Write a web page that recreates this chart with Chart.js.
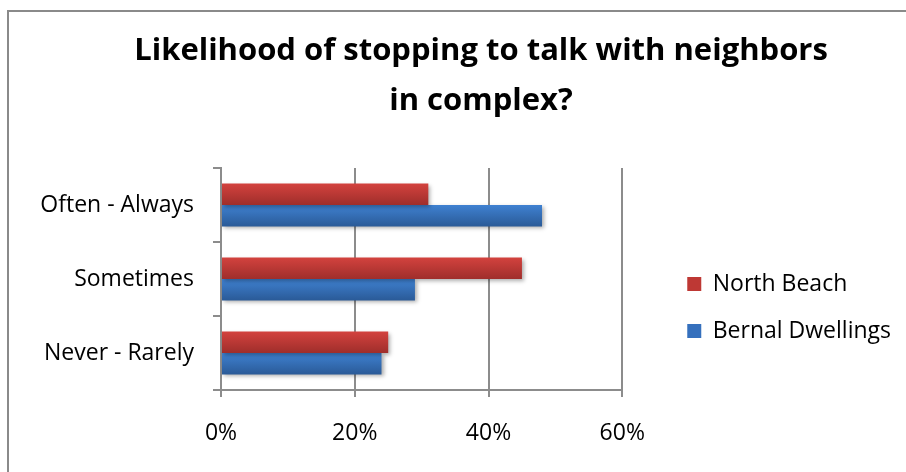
<!DOCTYPE html>
<html>
<head>
<meta charset="utf-8">
<script src="https://cdn.jsdelivr.net/npm/chart.js@4/dist/chart.umd.min.js"></script>
<style>
  html, body { margin: 0; padding: 0; background: #ffffff; overflow: hidden; width: 906px; height: 472px; }
  #wrap { position: absolute; left: 0; top: 0; width: 906px; height: 472px; overflow: hidden; }
  #c { position: absolute; left: 0; top: 0; }
  #frame { position: absolute; left: 7px; top: 10px; width: 1200px; height: 800px;
           border-left: 2px solid #8a8a8a; border-top: 2px solid #8a8a8a; pointer-events: none; }
</style>
</head>
<body>
<div id="wrap"><canvas id="c" width="962" height="472"></canvas><div id="frame"></div></div>
<script>
// ---- data ----
const titleLines = ['Likelihood of stopping to talk with neighbors', 'in complex?'];
const categories = ['Often - Always', 'Sometimes', 'Never - Rarely'];
const seriesNames = ['North Beach', 'Bernal Dwellings'];
const northBeach = [31, 45, 25];
const bernalDwellings = [48, 29, 24];
const xTickValues = [0, 20, 40, 60];

// ---- styling ----
const FONT = "'Open Sans', sans-serif";
const legendColors = ['#BE3834', '#3570BD'];
const gradientStops = [['#D3423E', '#9F2E2B'], ['#3F81D1', '#2A5A97']];
const gridColor = '#8c8c8c';

// layout targets (pixels); canvas is the full chart frame, wider than the window
const canvasW = 962;
const plotLeft = 221, plotRight = 622, legendItemX = 687, legendPad = 24, boxSize = 14, labelSize = 23;
const mctx = document.createElement('canvas').getContext('2d');
mctx.font = labelSize + 'px ' + FONT;
const tw = Math.max(...seriesNames.map(s => mctx.measureText(s).width));
const itemW = boxSize + labelSize / 2 + tw;
const legendW = Math.ceil(legendPad + itemW + 10);
const legendLeft = legendItemX - legendPad;
const spacerW = legendLeft - plotRight;
const tailW = Math.max(0, canvasW - legendLeft - legendW);

const barLook = {
  id: 'barLook',
  beforeDatasetDraw(chart, args) {
    const ctx = chart.ctx;
    const stops = gradientStops[args.index];
    args.meta.data.forEach(el => {
      const h = el.height, t = el.y - h / 2;
      const g = ctx.createLinearGradient(0, t, 0, t + h);
      g.addColorStop(0, stops[0]);
      g.addColorStop(1, stops[1]);
      el.options = Object.assign({}, el.options, { backgroundColor: g });
    });
    ctx.save();
    ctx.shadowColor = 'rgba(0,0,0,0.32)';
    ctx.shadowBlur = 4;
    ctx.shadowOffsetX = 2;
    ctx.shadowOffsetY = 2;
  },
  afterDatasetDraw(chart) { chart.ctx.restore(); }
};

Chart.defaults.font.family = FONT;
Chart.defaults.color = '#000000';

const blankAxis = (w, weight) => ({
  type: 'category',
  position: 'right',
  display: true,
  weight: weight,
  afterFit: s => { s.width = w; },
  grid: { display: false },
  border: { display: false },
  ticks: { display: false }
});

new Chart(document.getElementById('c'), {
  type: 'bar',
  data: {
    labels: categories,
    datasets: [
      { label: seriesNames[0], data: northBeach, backgroundColor: legendColors[0], borderWidth: 0 },
      { label: seriesNames[1], data: bernalDwellings, backgroundColor: legendColors[1], borderWidth: 0 }
    ]
  },
  options: {
    indexAxis: 'y',
    responsive: false,
    animation: false,
    events: [],
    categoryPercentage: 0.58,
    barPercentage: 1.0,
    layout: { padding: { left: 0, right: 0, top: 0, bottom: 0 } },
    plugins: {
      title: {
        display: true,
        text: titleLines,
        color: '#000000',
        font: { family: FONT, size: 31, weight: 'bold', lineHeight: '50px' },
        padding: { top: 26, bottom: 42 }
      },
      legend: {
        position: 'right',
        fullSize: false,
        align: 'center',
        maxWidth: legendW,
        title: { display: true, text: ' ', font: { size: 10, lineHeight: '12px' }, padding: { top: 45, bottom: 0 } },
        labels: {
          boxWidth: boxSize,
          boxHeight: boxSize,
          padding: legendPad,
          color: '#000000',
          font: { family: FONT, size: labelSize }
        }
      },
      tooltip: { enabled: false }
    },
    scales: {
      x: {
        min: 0,
        max: 60,
        afterBuildTicks: s => { s.ticks = xTickValues.map(v => ({ value: v })); },
        afterFit: s => { s.height = 472 - 390; },
        grid: { color: gridColor, lineWidth: 2, tickLength: 7, drawTicks: true },
        border: { display: true, color: gridColor, width: 2 },
        ticks: { padding: 23, color: '#000000', font: { family: FONT, size: 23 }, callback: v => v + '%' }
      },
      y: {
        type: 'category',
        offset: true,
        afterFit: s => { s.width = plotLeft; },
        grid: { offset: true, drawOnChartArea: false, color: gridColor, lineWidth: 2, tickLength: 8 },
        border: { display: true, color: gridColor, width: 2 },
        ticks: { padding: 19, color: '#000000', font: { family: FONT, size: 23 } }
      },
      spacer: blankAxis(spacerW, 0),
      tail: blankAxis(tailW, 3000)
    }
  },
  plugins: [barLook]
});
</script>
</body>
</html>
